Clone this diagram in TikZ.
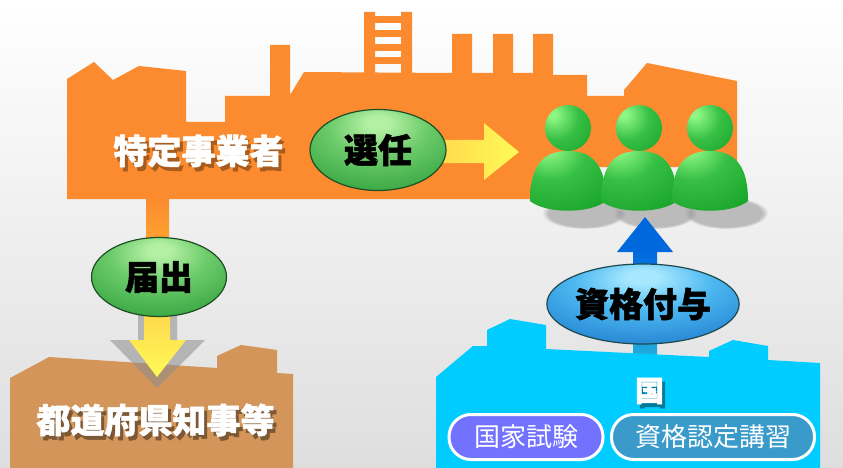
\documentclass[tikz,border=0pt]{standalone}
\usepackage{fontspec}
\newfontfamily\jp{Noto Sans CJK JP}[BoldFeatures={FakeBold=1.5}]
\usetikzlibrary{shapes.geometric,shadings,fadings,calc}

\definecolor{factory}{HTML}{FB8B2E}
\definecolor{stemlow}{HTML}{FFA530}
\definecolor{office}{HTML}{D3955A}
\definecolor{govt}{HTML}{00CCFF}
\definecolor{pillA}{HTML}{7272FF}
\definecolor{pillB}{HTML}{3A9BCB}
\definecolor{gA}{HTML}{B4F0A4}
\definecolor{gB}{HTML}{6CCB6A}
\definecolor{gC}{HTML}{3AA844}
\definecolor{gD}{HTML}{237A2E}
\definecolor{gRim}{HTML}{1E4E26}
\definecolor{bA}{HTML}{A8E8FF}
\definecolor{bB}{HTML}{4CB8F0}
\definecolor{bC}{HTML}{2686D4}
\definecolor{bD}{HTML}{1A58A0}
\definecolor{bRim}{HTML}{1E4A4E}
\definecolor{pA}{HTML}{8DF784}
\definecolor{pB}{HTML}{38C046}
\definecolor{pC}{HTML}{14A026}
\definecolor{yelA}{HTML}{FFD24A}
\definecolor{yelB}{HTML}{FFFA58}
\definecolor{upblue}{HTML}{0068DD}
\definecolor{upcyan}{HTML}{22AADD}

\pgfdeclareradialshading{greenorb}{\pgfpoint{0bp}{18bp}}{%
  color(0bp)=(gA); color(4bp)=(gA); color(18bp)=(gB); color(36bp)=(gC);
  color(54bp)=(gD); color(80bp)=(gD)}
\pgfdeclareradialshading{blueorb}{\pgfpoint{0bp}{18bp}}{%
  color(0bp)=(bA); color(4bp)=(bA); color(18bp)=(bB); color(36bp)=(bC);
  color(54bp)=(bD); color(80bp)=(bD)}
\pgfdeclareradialshading{headball}{\pgfpoint{-18bp}{16bp}}{%
  color(0bp)=(pA); color(4bp)=(pA); color(24bp)=(pB); color(50bp)=(pC);
  color(90bp)=(pC)}
\pgfdeclareradialshading{bodyball}{\pgfpoint{-14bp}{30bp}}{%
  color(0bp)=(pA); color(4bp)=(pA); color(22bp)=(pB); color(50bp)=(pC);
  color(110bp)=(pC)}

% white lettering with a dark copy set behind it, down and to the right
\newcommand{\shadowed}[4]{%
  \makebox[0pt][l]{\hspace{#3}\raisebox{-#4}{\textcolor{#1}{#2}}}%
  \textcolor{white}{#2}}

\tikzset{
  orbtext/.style={font=\jp\bfseries\fontsize{34}{34}\selectfont, text=black},
  greenorbnode/.style={ellipse, shading=greenorb, draw=gRim, line width=1.2pt,
    inner sep=0pt, orbtext},
  blueorbnode/.style={ellipse, shading=blueorb, draw=bRim, line width=1.2pt,
    inner sep=0pt, orbtext},
  bigwhite/.style={font=\jp\bfseries\fontsize{34}{34}\selectfont,
    inner sep=0pt},
  pillnode/.style={rounded corners=22pt, draw=white, line width=3pt,
    minimum height=45pt, inner sep=0pt, text=white,
    font=\jp\fontsize{26}{26}\selectfont},
}

% soft shadow and green figure (head and shoulders) centred on x = #1
\newcommand{\figureshadow}[1]{%
  \fill[black!40, opacity=0.6, path fading=circle with fuzzy edge 15 percent]
    (#1+16,213) ellipse [x radius=42pt, y radius=16pt];}
\newcommand{\greenfigure}[1]{%
  \shade[shading=bodyball]
    (#1-38,201) .. controls (#1-38,162) and (#1-22,151) .. (#1,151)
    .. controls (#1+22,151) and (#1+38,162) .. (#1+38,201)
    .. controls (#1+22,214) and (#1-22,214) .. cycle;
  \shade[shading=headball] (#1,128) circle[radius=23pt];}

\begin{document}
\begin{tikzpicture}[x=1pt,y=-1pt]
\useasboundingbox (0,0) rectangle (843,468);
\shade[top color=white, middle color=white!99!black, bottom color=black!13]
  (0,0) rectangle (843,468);

% ---- factory of the operator ----
\fill[factory] (67,199) -- (67,79) -- (94,62) -- (113,80) -- (139,66)
  -- (186,71) -- (186,122) -- (225,122) -- (225,96) -- (270,96) -- (270,45)
  -- (290,45) -- (290,95) -- (304,72) -- (452,73) -- (452,34) -- (472,34)
  -- (472,73) -- (493,73) -- (493,34) -- (513,34) -- (513,73) -- (533,73)
  -- (533,34) -- (553,34) -- (553,75) -- (587,75) -- (587,96) -- (624,96)
  -- (624,90) -- (647,63) -- (737,81) -- (737,167) -- (560,167)
  -- (560,199) -- cycle;
% ladder on the roof
\fill[factory] (364,12) rectangle (375,73) (401,12) rectangle (412,73);
\foreach \y in {16,30,44,57} \fill[factory] (375,\y) rectangle (401,\y+7);

\node[bigwhite] (operator) at (198.5,153)
  {\shadowed{factory!66!black}{特定事業者}{3pt}{4pt}};

% stem down to the notification
\shade[top color=factory, bottom color=stemlow] (146,198) rectangle (169,245);

% ---- prefectural office ----
\fill[office] (10,468) -- (10,378) -- (49,357) -- (217,368) -- (217,356)
  -- (241,345) -- (277,350) -- (277,373) -- (293,374) -- (293,468) -- cycle;
\node[bigwhite] (pref) at (155.5,422)
  {\shadowed{office!59!black}{都道府県知事等}{3pt}{4pt}};

% notification arrow with its shadow
\fill[black!45, opacity=0.55] (138,300) -- (177,300) -- (177,340) -- (205,340)
  -- (157,388) -- (110,340) -- (138,340) -- cycle;
\shade[top color=yelA, bottom color=yelB] (144,300) -- (170,300) -- (170,340)
  -- (186,340) -- (157,377) -- (129,340) -- (144,340) -- cycle;
\node[greenorbnode, minimum width=135pt, minimum height=79pt]
  (notify) at (159,277) {届出};

% ---- appointment ----
\shade[left color=yelA, right color=yelB] (420,140) -- (484,140) -- (484,123)
  -- (519,152) -- (484,180) -- (484,163) -- (420,163) -- cycle;
\node[greenorbnode, minimum width=136pt, minimum height=81pt]
  (appoint) at (378,150) {選任};

% ---- the appointed staff ----
\figureshadow{568}\figureshadow{639}\figureshadow{710}
\greenfigure{568}\greenfigure{639}\greenfigure{710}

% ---- qualification arrow ----
\shade[top color=upblue, bottom color=upcyan] (633,250) rectangle (657,356);
\fill[upblue] (617,252) -- (645,217) -- (673,252) -- cycle;

% ---- the state ----
\fill[govt] (436,468) -- (436,377) -- (473,346) -- (487,346) -- (487,330)
  -- (510,319) -- (546,325) -- (546,349) -- (709,357) -- (709,351)
  -- (733,340) -- (768,346) -- (768,360) -- (820,363) -- (820,468) -- cycle;
\node[blueorbnode, minimum width=167pt, minimum height=80pt]
  (qualify) at (643,304) {資格付与};

\node[font=\jp\bfseries\fontsize{29}{29}\selectfont, inner sep=0pt]
  (state) at (649.5,393) {\shadowed{govt!60!black}{国}{3pt}{4pt}};

\node[pillnode, fill=pillA, minimum width=154pt] (exam) at (526,437) {国家試験};
\node[pillnode, fill=pillB, minimum width=203pt] (course) at (713,437) {資格認定講習};
\end{tikzpicture}
\end{document}
